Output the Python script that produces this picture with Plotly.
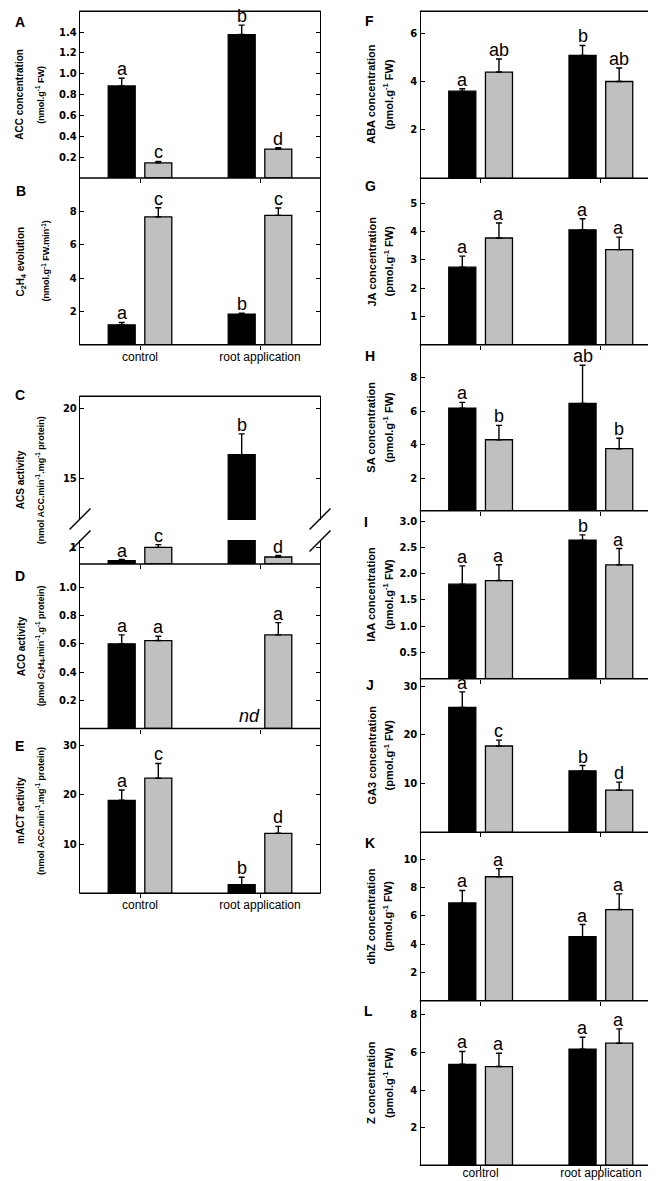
import plotly.graph_objects as go

# Figure is a multi-panel bar chart: dark bars and light bars for two treatments
W, H = 656, 1181

groups = ["control", "root application"]

# A  ACC concentration
acc_dark = [0.884, 1.377]
acc_dark_se = [0.073, 0.09]
acc_light = [0.145, 0.278]
acc_light_se = [0.015, 0.012]
acc_dark_sig = ["a", "b"]
acc_light_sig = ["c", "d"]

# B  C2H4 evolution
eth_dark = [1.2, 1.84]
eth_dark_se = [0.14, 0.06]
eth_light = [7.67, 7.76]
eth_light_se = [0.55, 0.44]
eth_dark_sig = ["a", "b"]
eth_light_sig = ["c", "c"]

# C  ACS activity (broken axis)
acs_dark = [0.2, 16.7]
acs_dark_se = [0.07, 1.5]
acs_light = [1.0, 0.42]
acs_light_se = [0.16, 0.09]
acs_dark_sig = ["a", "b"]
acs_light_sig = ["c", "d"]

# D  ACO activity (root application dark not detected)
aco_dark = [0.60, None]
aco_dark_se = [0.063, 0]
aco_light = [0.623, 0.663]
aco_light_se = [0.03, 0.087]
aco_dark_sig = ["a", ""]
aco_light_sig = ["a", "a"]

# E  mACT activity
mact_dark = [18.9, 1.75]
mact_dark_se = [2.1, 1.5]
mact_light = [23.4, 12.2]
mact_light_se = [3.0, 1.4]
mact_dark_sig = ["a", "b"]
mact_light_sig = ["c", "d"]

# F  ABA
aba_dark = [3.6, 5.08]
aba_dark_se = [0.1, 0.41]
aba_light = [4.39, 4.0]
aba_light_se = [0.54, 0.56]
aba_dark_sig = ["a", "b"]
aba_light_sig = ["ab", "ab"]

# G  JA
ja_dark = [2.74, 4.06]
ja_dark_se = [0.39, 0.39]
ja_light = [3.77, 3.36]
ja_light_se = [0.53, 0.44]
ja_dark_sig = ["a", "a"]
ja_light_sig = ["a", "a"]

# H  SA
sa_dark = [6.18, 6.47]
sa_dark_se = [0.35, 2.26]
sa_light = [4.31, 3.78]
sa_light_se = [0.85, 0.62]
sa_dark_sig = ["a", "ab"]
sa_light_sig = ["b", "b"]

# I  IAA
iaa_dark = [1.80, 2.64]
iaa_dark_se = [0.35, 0.10]
iaa_light = [1.87, 2.17]
iaa_light_se = [0.30, 0.31]
iaa_dark_sig = ["a", "b"]
iaa_light_sig = ["a", "a"]

# J  GA3
ga3_dark = [25.6, 12.6]
ga3_dark_se = [3.2, 1.1]
ga3_light = [17.7, 8.66]
ga3_light_se = [1.2, 1.64]
ga3_dark_sig = ["a", "b"]
ga3_light_sig = ["c", "d"]

# K  dhZ
dhz_dark = [6.91, 4.52]
dhz_dark_se = [0.88, 0.86]
dhz_light = [8.76, 6.44]
dhz_light_se = [0.57, 1.11]
dhz_dark_sig = ["a", "a"]
dhz_light_sig = ["a", "a"]

# L  Z
z_dark = [5.37, 6.17]
z_dark_se = [0.68, 0.64]
z_light = [5.25, 6.49]
z_light_se = [0.71, 0.76]
z_dark_sig = ["a", "a"]
z_light_sig = ["a", "a"]

LEFT = (72, 312)
RIGHT = (412.5, 653)
DARK, LIGHT = "black", "#c0c0c0"
LW = 1.4
TICKFONT = dict(family="DejaVu Sans", size=10, color="black", weight="bold")
XFONT = dict(family="Liberation Sans", size=12, color="black")
SIGFONT = dict(family="Liberation Sans", size=18, color="black")


def fx(v):
    return v / W


def fy(v):
    return 1 - v / H


fig = go.Figure()
layout = {}
annotations = []
shapes = []
count = [0]


def new_id():
    count[0] += 1
    n = count[0]
    return ("" if n == 1 else str(n))


def add_bars(xid, yid, dark, dark_se, light, light_se):
    for vals, se, fill, off in ((dark, dark_se, DARK, -0.265),
                                (light, light_se, LIGHT, 0.04)):
        fig.add_trace(go.Bar(
            x=groups, y=vals, width=0.225, offset=off,
            marker=dict(color=fill, line=dict(color="black", width=1.3)),
            error_y=dict(type="data", symmetric=False, array=se,
                         arrayminus=[0] * len(se), color="black",
                         thickness=1.4, width=3),
            xaxis="x" + xid, yaxis="y" + yid,
            showlegend=False, hoverinfo="skip"))


def add_sig(xid, yid, vals, se, sig, shift):
    for g, v, e, s in zip(groups, vals, se, sig):
        if v is None or not s:
            continue
        annotations.append(dict(
            x=g, y=v + e, xref="x" + xid, yref="y" + yid, xshift=shift,
            yshift=-3, yanchor="bottom", text=s, showarrow=False,
            font=SIGFONT))


def y_axis(xid, yid, top, bottom, yrange, ticks, fmt):
    # ticks point into the plot on both the left and right borders
    layout["yaxis" + yid] = dict(
        domain=[fy(bottom), fy(top)], anchor="x" + xid, range=yrange,
        tickvals=ticks, tickformat=fmt, ticks="inside", ticklen=4,
        tickwidth=1.3, tickcolor="black", showline=True, linecolor="black",
        linewidth=LW, mirror="ticks", showgrid=False, zeroline=False,
        fixedrange=True, tickfont=TICKFONT)


def x_axis(xid, yid, col, labels, standoff):
    layout["xaxis" + xid] = dict(
        domain=[fx(col[0]), fx(col[1])], anchor="y" + yid,
        type="category", categoryarray=groups, range=[-0.5, 1.5],
        ticks="outside", ticklen=4, tickwidth=1.3, tickcolor="black",
        showline=False, showgrid=False, zeroline=False, fixedrange=True,
        showticklabels=labels, tickfont=XFONT, ticklabelstandoff=standoff)


def hline(col, y):
    # horizontal frame edge of a panel
    shapes.append(dict(type="line", xref="paper", yref="paper",
                       x0=fx(col[0] - LW / 2), x1=fx(col[1] + LW / 2),
                       y0=fy(y), y1=fy(y), line=dict(color="black", width=LW)))


def titles(lines, xs, sizes, top, bottom):
    for text, x, size in zip(lines, xs, sizes):
        annotations.append(dict(
            x=fx(x), y=fy((top + bottom) / 2), xref="paper", yref="paper",
            text=text, textangle=-90, showarrow=False, xanchor="center",
            yanchor="middle",
            font=dict(family="Liberation Sans", size=size, color="black",
                      weight="bold")))


def panel_letter(letter, x, y):
    annotations.append(dict(
        x=fx(x), y=fy(y), xref="paper", yref="paper", text=letter,
        showarrow=False, xanchor="center", yanchor="middle",
        font=dict(family="Liberation Sans", size=14, color="black",
                  weight="bold")))


LT = (10, 9)     # left column title sizes
RT = (11, 11)    # right column title sizes
FW = "(pmol.g<sup>-1</sup> FW)"

panels = [
    # letter, col, top, bottom, range, ticks, fmt, data, title lines, title x, sizes,
    # x labels, label standoff, top border, letter pos
    ("A", LEFT, 3.3, 170, [0, 1.6], [0.2, 0.4, 0.6, 0.8, 1.0, 1.2, 1.4], ".1f",
     (acc_dark, acc_dark_se, acc_light, acc_light_se, acc_dark_sig, acc_light_sig),
     ["ACC concentration", "(nmol.g<sup>-1</sup> FW)"], (12, 32), LT, False, 0, True, (12, 14)),
    ("B", LEFT, 170, 336.8, [0, 10], [2, 4, 6, 8], "",
     (eth_dark, eth_dark_se, eth_light, eth_light_se, eth_dark_sig, eth_light_sig),
     ["C<sub>2</sub>H<sub>4</sub> evolution", "(nmol.g<sup>-1</sup> FW.min<sup>-1</sup>)"],
     (13, 38), LT, True, -3, False, (13, 183)),
    ("D", LEFT, 556, 720.5, [0, 1.165], [0.2, 0.4, 0.6, 0.8, 1.0], ".1f",
     (aco_dark, aco_dark_se, aco_light, aco_light_se, aco_dark_sig, aco_light_sig),
     ["ACO activity", "(pmol C<sub>2</sub>H<sub>4</sub>.min<sup>-1</sup>.g<sup>-1</sup> protein)"],
     (13, 32), LT, False, 0, False, (12, 568)),
    ("E", LEFT, 720.5, 885.3, [0, 33.5], [10, 20, 30], "",
     (mact_dark, mact_dark_se, mact_light, mact_light_se, mact_dark_sig, mact_light_sig),
     ["mACT activity", "(nmol ACC.min<sup>-1</sup>.mg<sup>-1</sup> protein)"],
     (13, 32), LT, True, -4, False, (11, 738)),
    ("F", RIGHT, 3.3, 170.3, [0, 6.9], [2, 4, 6], "",
     (aba_dark, aba_dark_se, aba_light, aba_light_se, aba_dark_sig, aba_light_sig),
     ["ABA concentration", FW], (363, 380), RT, False, 0, True, (361, 13)),
    ("G", RIGHT, 170.3, 336.7, [0, 5.88], [1, 2, 3, 4, 5], "",
     (ja_dark, ja_dark_se, ja_light, ja_light_se, ja_dark_sig, ja_light_sig),
     ["JA concentration", FW], (363, 380), RT, False, 0, False, (362, 178)),
    ("H", RIGHT, 336.7, 502.7, [0.1, 9.95], [2, 4, 6, 8], "",
     (sa_dark, sa_dark_se, sa_light, sa_light_se, sa_dark_sig, sa_light_sig),
     ["SA concentration", FW], (363, 380), RT, False, 0, False, (362, 348)),
    ("I", RIGHT, 502.7, 670.7, [0, 3.2], [0.5, 1.0, 1.5, 2.0, 2.5, 3.0], ".1f",
     (iaa_dark, iaa_dark_se, iaa_light, iaa_light_se, iaa_dark_sig, iaa_light_sig),
     ["IAA concentration", FW], (363, 380), RT, False, 0, False, (358, 514)),
    ("J", RIGHT, 670.7, 824.3, [0, 31.5], [10, 20, 30], "",
     (ga3_dark, ga3_dark_se, ga3_light, ga3_light_se, ga3_dark_sig, ga3_light_sig),
     ["GA3 concentration", FW], (363, 380), RT, False, 0, False, (362, 677)),
    ("K", RIGHT, 824.3, 992.7, [0, 11.9], [2, 4, 6, 8, 10], "",
     (dhz_dark, dhz_dark_se, dhz_light, dhz_light_se, dhz_dark_sig, dhz_light_sig),
     ["dhZ concentration", FW], (363, 380), RT, False, 0, False, (362, 835)),
    ("L", RIGHT, 992.7, 1157.3, [0, 8.75], [2, 4, 6, 8], "",
     (z_dark, z_dark_se, z_light, z_light_se, z_dark_sig, z_light_sig),
     ["Z concentration", FW], (363, 380), RT, True, -8, False, (360, 1003)),
]

for (letter, col, top, bottom, yrange, ticks, fmt, data, tlines, tx, tsizes,
     labels, standoff, top_edge, lpos) in panels:
    aid = new_id()
    dark, dark_se, light, light_se, dark_sig, light_sig = data
    x_axis(aid, aid, col, labels, standoff)
    y_axis(aid, aid, top, bottom, yrange, ticks, fmt)
    add_bars(aid, aid, dark, dark_se, light, light_se)
    add_sig(aid, aid, dark, dark_se, dark_sig, -18)
    add_sig(aid, aid, light, light_se, light_sig, 18)
    titles(tlines, tx, tsizes, top, bottom)
    panel_letter(letter, *lpos)
    hline(col, bottom)
    if top_edge:
        hline(col, top)
    if letter == "D":
        annotations.append(dict(
            x=groups[1], y=0, xref="x" + aid, yref="y" + aid, xshift=-11,
            yshift=1, yanchor="bottom", text="<i>nd</i>", showarrow=False,
            font=dict(family="Liberation Sans", size=18, color="black")))

# C: ACS activity with a broken y axis (lower 0-1.44, upper 12-20.9)
C_TOP, C_GAP_TOP, C_GAP_BOTTOM, C_BOTTOM = 388.3, 512, 532, 556
low = new_id()
x_axis(low, low, LEFT, False, 0)
y_axis(low, low, C_GAP_BOTTOM, C_BOTTOM, [0, 1.44], [1], "")
up = new_id()
y_axis(low, up, C_TOP, C_GAP_TOP, [12, 20.9], [15, 20], "")
add_bars(low, low, acs_dark, acs_dark_se, acs_light, acs_light_se)
add_bars(low, up, acs_dark, acs_dark_se, acs_light, acs_light_se)
for vals, se, sig, shift in ((acs_dark, acs_dark_se, acs_dark_sig, -18),
                             (acs_light, acs_light_se, acs_light_sig, 18)):
    for g, v, e, s in zip(groups, vals, se, sig):
        ref = up if v + e > 1.44 else low
        annotations.append(dict(
            x=g, y=v + e, xref="x" + low, yref="y" + ref, xshift=shift,
            yshift=-3, yanchor="bottom", text=s, showarrow=False,
            font=SIGFONT))
titles(["ACS activity", "(nmol ACC.min<sup>-1</sup>.mg<sup>-1</sup> protein)"],
       (12, 32), LT, C_TOP, C_BOTTOM)
panel_letter("C", 12, 387)
hline(LEFT, C_TOP)
hline(LEFT, C_BOTTOM)

# break marks on both sides of the C panel
for cx in LEFT:
    for cy in (511, 533):
        shapes.append(dict(type="line", xref="paper", yref="paper",
                           x0=fx(cx - 10.5), y0=fy(cy + 10.5),
                           x1=fx(cx + 10.5), y1=fy(cy - 10.5),
                           line=dict(color="black", width=1.4)))

fig.update_layout(
    width=W, height=H,
    margin=dict(l=0, r=0, t=0, b=0),
    paper_bgcolor="white", plot_bgcolor="rgba(0,0,0,0)",
    barmode="overlay", showlegend=False,
    annotations=annotations, shapes=shapes,
    **layout)

fig.write_html("out.html")
